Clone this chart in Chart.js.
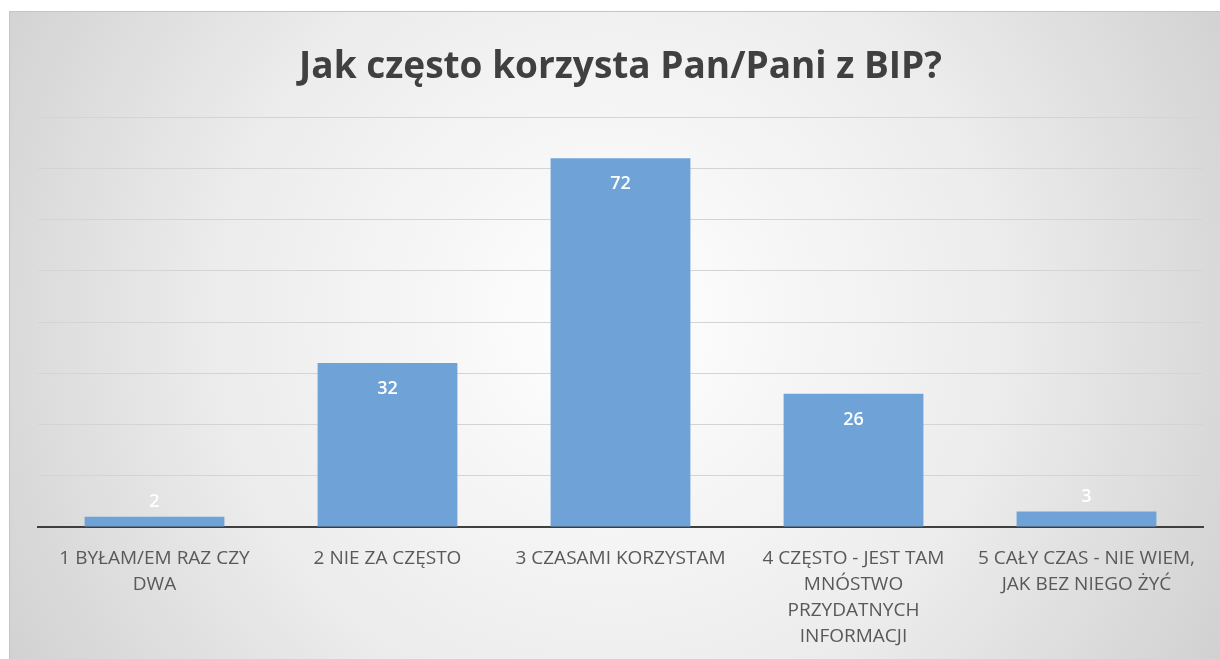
<!DOCTYPE html>
<html>
<head>
<meta charset="utf-8">
<script src="https://cdn.jsdelivr.net/npm/chart.js@4/dist/chart.umd.min.js"></script>
<style>
  html, body { margin: 0; padding: 0; background: #fff; }
  #wrap { width: 1220px; height: 659px; }
</style>
</head>
<body>
<div id="wrap"><canvas id="myChart" width="1220" height="659"></canvas></div>
<script>
const categories = [
    ['1 BYŁAM/EM RAZ CZY', 'DWA'],
    ['2 NIE ZA CZĘSTO'],
    ['3 CZASAMI KORZYSTAM'],
    ['4 CZĘSTO - JEST TAM', 'MNÓSTWO', 'PRZYDATNYCH', 'INFORMACJI'],
    ['5 CAŁY CZAS - NIE WIEM,', 'JAK BEZ NIEGO ŻYĆ']
];
const counts = [2, 32, 72, 26, 3];
const yMax = 80;
const yStep = 10;

// background: white page with a radial grey panel
const panelBg = {
    id: 'panelBg',
    beforeDraw(chart) {
        const c = chart.ctx;
        const w = chart.width, h = chart.height;
        c.save();
        c.fillStyle = '#ffffff';
        c.fillRect(0, 0, w, h);
        const g = c.createRadialGradient(610, 320, 0, 610, 320, 720);
        g.addColorStop(0, '#ffffff');
        g.addColorStop(0.55, '#ececec');
        g.addColorStop(1, '#cfcfcf');
        c.fillStyle = g;
        c.fillRect(9, 11, w - 9, h - 11);
        c.strokeStyle = '#c4c4c4';
        c.lineWidth = 1;
        c.beginPath();
        c.moveTo(9.5, h);
        c.lineTo(9.5, 11.5);
        c.lineTo(w, 11.5);
        c.stroke();
        c.restore();
    }
};

// value labels inside the bar top (or above if the bar is short)
const valueLabels = {
    id: 'valueLabels',
    afterDatasetsDraw(chart) {
        const c = chart.ctx;
        const meta = chart.getDatasetMeta(0);
        c.save();
        c.font = '600 18px "Open Sans"';
        c.fillStyle = '#ffffff';
        c.textAlign = 'center';
        c.textBaseline = 'middle';
        meta.data.forEach((bar, i) => {
            const hgt = bar.base - bar.y;
            const y = hgt < 40 ? bar.y - 15 : bar.y + 26;
            c.fillText(String(counts[i]), bar.x, y);
        });
        c.restore();
    }
};

const ctx = document.getElementById('myChart').getContext('2d');
const myChart = new Chart(ctx, {
    type: 'bar',
    data: {
        labels: categories,
        datasets: [{
            data: counts,
            backgroundColor: '#6fa3d8',
            borderWidth: 0,
            categoryPercentage: 1,
            barPercentage: 0.6
        }]
    },
    options: {
        responsive: false,
        animation: false,
        layout: { padding: { left: 38, right: 17, top: 11, bottom: 0 } },
        plugins: {
            legend: { display: false },
            tooltip: { enabled: false },
            title: {
                display: true,
                text: 'Jak często korzysta Pan/Pani z BIP?',
                color: '#404040',
                font: { family: '"Open Sans"', size: 37, weight: 'bold', lineHeight: 1.2 },
                padding: { top: 34, bottom: 28 }
            }
        },
        scales: {
            x: {
                grid: { display: false, drawTicks: false },
                border: { display: true, color: '#3f3f3f', width: 2 },
                ticks: {
                    color: '#595959',
                    font: { family: '"Open Sans"', size: 19, lineHeight: 1.37 },
                    padding: 19,
                    maxRotation: 0,
                    autoSkip: false
                },
                afterFit(scale) {
                    scale.height -= 10;
                }
            },
            y: {
                min: 0,
                max: yMax,
                ticks: { display: false, stepSize: yStep },
                border: { display: false },
                grid: { color: '#d4d4d4', lineWidth: 1, drawTicks: false }
            }
        }
    },
    plugins: [panelBg, valueLabels]
});
</script>
</body>
</html>
